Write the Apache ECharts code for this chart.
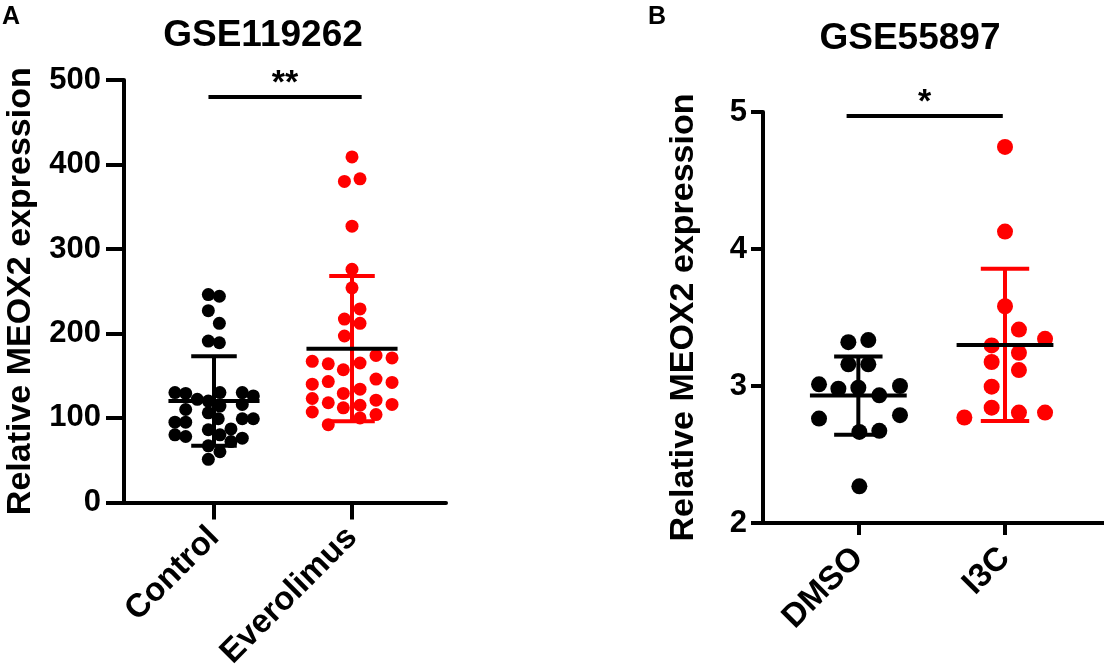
<!DOCTYPE html>
<html>
<head>
<meta charset="utf-8">
<script src="https://cdn.jsdelivr.net/npm/echarts@6/dist/echarts.min.js"></script>
<style>
  html, body { margin: 0; padding: 0; background: #fff; }
  #chart { width: 1104px; height: 672px; }
</style>
</head>
<body>
<div id="chart"></div>
<script>
// ── Data ──────────────────────────────────────────────────────────────────
const groupsA = ['Control', 'Everolimus'];
const groupsB = ['DMSO', 'I3C'];

// jitter offsets (x, relative to group position) and values
const controlJitter = [-0.041, 0.039, -0.041, 0.039, -0.041, 0.039,
  -0.283, -0.205, -0.121, -0.041, 0.043, 0.205, 0.285,
  -0.205, -0.041, 0.043, 0.205,
  -0.283, -0.205, 0.031, 0.205, 0.285,
  -0.283, -0.205, -0.041, 0.043, 0.123, 0.205, 0.123,
  -0.041, 0.043, -0.041];
const controlVals = [246, 244, 227, 212, 191, 189,
  130, 129, 122, 120, 130, 130, 126,
  110, 106, 114, 116,
  95, 95, 99, 99, 99,
  80, 78, 86, 80, 87, 76, 72,
  67, 60, 51];

const everoJitter = [0, -0.055, 0.058, 0, 0, 0, 0.058, -0.055, 0.058, -0.055,
  -0.288, -0.172, -0.063, 0.058, 0.174, 0.29,
  -0.288, -0.172, 0.058, 0.174, 0.29,
  -0.288, -0.172, -0.063, 0.058, 0.174, 0.29,
  -0.288, -0.063, 0.058, 0.174, -0.172];
const everoVals = [409, 380, 383, 327, 276, 254, 229, 217, 212, 197,
  167, 164, 157, 165, 174, 171,
  140, 143, 134, 146, 142,
  123, 118, 129, 115, 121, 116,
  107, 112, 100, 104, 92];

const dmsoJitter = [-0.068, 0.068, -0.068, 0.068, -0.268, -0.136, 0, 0.143, 0.284,
  -0.268, 0.284, 0.007, 0.143, 0.007];
const dmsoVals = [3.32, 3.335, 3.158, 3.158, 3.012, 2.98, 2.988, 2.932, 3.0,
  2.762, 2.787, 2.665, 2.673, 2.268];

const i3cJitter = [0, 0, 0, 0.095, 0.273, -0.091, 0.095, -0.091, 0.095, -0.091,
  -0.091, -0.277, 0.095, 0.273];
const i3cVals = [4.745, 4.127, 3.582, 3.412, 3.344, 3.296, 3.242, 3.175, 3.116, 2.995,
  2.842, 2.77, 2.806, 2.806];

// mean ± SD
const meanA = [120, 182];
const sdA = [53, 86];
const meanB = [2.93, 3.30];
const sdB = [0.285, 0.555];

// significance brackets: [x1, x2, y]
const sigA = [[-0.04, 1.07, 480]];
const sigB = [[-0.08, 0.985, 4.97]];
const sigLabelA = '**';
const sigLabelB = '*';

const yTicksA = { min: 0, max: 500, interval: 100 };
const yTicksB = { min: 2, max: 5, interval: 1 };

// ── Helpers ───────────────────────────────────────────────────────────────
const FONT = '"Liberation Sans", Arial, Helvetica, sans-serif';
const BLACK = '#000000';
const RED = '#ff0000';

function pts(groupIdx, jitter, vals) {
  return vals.map((v, i) => [groupIdx + jitter[i], v]);
}

function errRender(sdColors) {
  return (params, api) => {
    const x = api.value(0), m = api.value(1), s = api.value(2);
    const a = api.coord([x - 0.33, m]), b = api.coord([x + 0.33, m]);
    const t = api.coord([x, m + s]), btm = api.coord([x, m - s]);
    const tl = api.coord([x - 0.165, m + s]), tr = api.coord([x + 0.165, m + s]);
    const bl = api.coord([x - 0.165, m - s]), br = api.coord([x + 0.165, m - s]);
    const c = sdColors[params.dataIndex];
    const st = col => ({ stroke: col, lineWidth: 4, lineCap: 'butt' });
    return {
      type: 'group',
      children: [
        { type: 'line', shape: { x1: t[0], y1: t[1], x2: btm[0], y2: btm[1] }, style: st(c) },
        { type: 'line', shape: { x1: tl[0], y1: tl[1], x2: tr[0], y2: tr[1] }, style: st(c) },
        { type: 'line', shape: { x1: bl[0], y1: bl[1], x2: br[0], y2: br[1] }, style: st(c) },
        { type: 'line', shape: { x1: a[0], y1: a[1], x2: b[0], y2: b[1] }, style: st(BLACK) },
      ],
    };
  };
}

function sigRender(label) {
  return (params, api) => {
    const p1 = api.coord([api.value(0), api.value(2)]);
    const p2 = api.coord([api.value(1), api.value(2)]);
    return {
      type: 'group',
      children: [
        { type: 'line', shape: { x1: p1[0], y1: p1[1], x2: p2[0], y2: p2[1] },
          style: { stroke: BLACK, lineWidth: 4 } },
        { type: 'text', x: (p1[0] + p2[0]) / 2, y: p1[1] + 4,
          style: { text: label, fill: BLACK, font: `bold 34px ${FONT}`,
                   textAlign: 'center', textVerticalAlign: 'bottom' } },
      ],
    };
  };
}

function xAxisFor(gridIndex, groups, min, max, tickLen) {
  return {
    type: 'value', gridIndex, min, max,
    splitLine: { show: false },
    axisLine: { onZero: false, lineStyle: { color: BLACK, width: 4 } },
    axisTick: { customValues: [0, 1], length: tickLen, lineStyle: { color: BLACK, width: 4 } },
    axisLabel: {
      customValues: [0, 1], rotate: 45, margin: 30,
      formatter: v => groups[Math.round(v)] ?? '',
      color: BLACK, fontSize: 33, fontWeight: 'bold', fontFamily: FONT,
    },
  };
}

function yAxisFor(gridIndex, ticks, tickLen, nameGap, labelMargin) {
  return {
    type: 'value', gridIndex, ...ticks,
    name: 'Relative MEOX2 expression', nameLocation: 'middle', nameGap,
    nameTextStyle: { color: BLACK, fontSize: 34, fontWeight: 'bold', fontFamily: FONT },
    splitLine: { show: false },
    axisLine: { show: true, onZero: false, lineStyle: { color: BLACK, width: 4 } },
    axisTick: { show: true, length: tickLen, lineStyle: { color: BLACK, width: 4 } },
    axisLabel: { color: BLACK, fontSize: 31, fontWeight: 'bold', fontFamily: FONT, margin: labelMargin },
  };
}

// ── Chart ─────────────────────────────────────────────────────────────────
const chart = echarts.init(document.getElementById('chart'));

chart.setOption({
  animation: false,
  grid: [
    { left: 124, top: 80, width: 322, height: 423 },
    { left: 763, top: 112, width: 341, height: 411 },
  ],
  xAxis: [
    xAxisFor(0, groupsA, -0.652, 1.681, 17),
    xAxisFor(1, groupsB, -0.65, 1.675, 12),
  ],
  yAxis: [
    yAxisFor(0, yTicksA, 18, 86, 23),
    yAxisFor(1, yTicksB, 12, 62, 16),
  ],
  graphic: [
    { type: 'text', left: 2, top: 5, style: { text: 'A', fill: BLACK, font: `bold 25px ${FONT}` } },
    { type: 'text', left: 648, top: 5, style: { text: 'B', fill: BLACK, font: `bold 25px ${FONT}` } },
    { type: 'text', x: 263, y: 36, style: { text: 'GSE119262', fill: BLACK, font: `bold 37px ${FONT}`,
      textAlign: 'center', textVerticalAlign: 'middle' } },
    { type: 'text', x: 910, y: 39, style: { text: 'GSE55897', fill: BLACK, font: `bold 37px ${FONT}`,
      textAlign: 'center', textVerticalAlign: 'middle' } },
  ],
  series: [
    { type: 'scatter', xAxisIndex: 0, yAxisIndex: 0, symbolSize: 13, z: 2,
      itemStyle: { color: BLACK, opacity: 1 }, data: pts(0, controlJitter, controlVals) },
    { type: 'scatter', xAxisIndex: 0, yAxisIndex: 0, symbolSize: 13, z: 2,
      itemStyle: { color: RED, opacity: 1 }, data: pts(1, everoJitter, everoVals) },
    { type: 'scatter', xAxisIndex: 1, yAxisIndex: 1, symbolSize: 16, z: 2,
      itemStyle: { color: BLACK, opacity: 1 }, data: pts(0, dmsoJitter, dmsoVals) },
    { type: 'scatter', xAxisIndex: 1, yAxisIndex: 1, symbolSize: 16, z: 2,
      itemStyle: { color: RED, opacity: 1 }, data: pts(1, i3cJitter, i3cVals) },
    { type: 'custom', xAxisIndex: 0, yAxisIndex: 0, z: 3, silent: true,
      renderItem: errRender([BLACK, RED]),
      data: meanA.map((m, i) => [i, m, sdA[i]]) },
    { type: 'custom', xAxisIndex: 1, yAxisIndex: 1, z: 3, silent: true,
      renderItem: errRender([BLACK, RED]),
      data: meanB.map((m, i) => [i, m, sdB[i]]) },
    { type: 'custom', xAxisIndex: 0, yAxisIndex: 0, z: 3, silent: true,
      renderItem: sigRender(sigLabelA), data: sigA },
    { type: 'custom', xAxisIndex: 1, yAxisIndex: 1, z: 3, silent: true,
      renderItem: sigRender(sigLabelB), data: sigB },
  ],
});
</script>
</body>
</html>
